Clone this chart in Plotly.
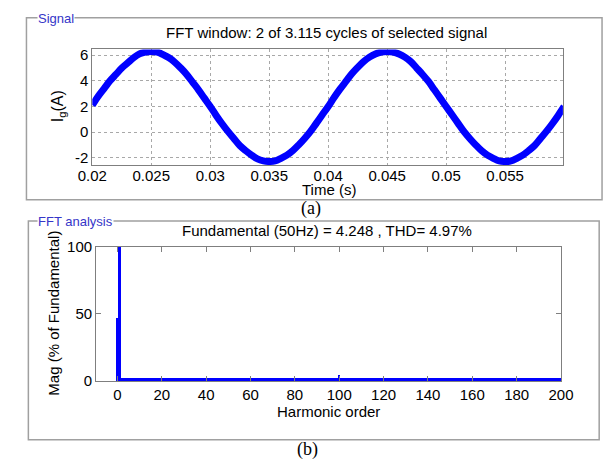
import numpy as np
import plotly.graph_objects as go

# ---------------- data ----------------
t_start = 0.020
t_step = 0.0005
ig_values = [
    2.1, 2.8, 3.4, 4.0, 4.5, 5.0, 5.4, 5.8, 6.1, 6.25, 6.3, 6.25, 6.05, 5.8, 5.45, 5.0, 4.5, 3.9, 3.3, 2.65, 2.0,
    1.3, 0.65, 0.05, -0.5, -1.05, -1.45, -1.8, -2.1, -2.25, -2.3, -2.25, -2.05, -1.8, -1.45, -1.0, -0.5, 0.05, 0.7, 1.35, 2.0,
    2.7, 3.35, 3.95, 4.55, 5.05, 5.5, 5.85, 6.1, 6.25, 6.3, 6.25, 6.1, 5.85, 5.5, 5.0, 4.5, 3.95, 3.3, 2.65, 2.0,
    1.35, 0.7, 0.05, -0.5, -1.0, -1.45, -1.8, -2.05, -2.25, -2.3, -2.25, -2.05, -1.8, -1.45, -1.05, -0.5, 0.05, 0.65, 1.3, 2.0,
]
time_s = [round(t_start + i * t_step, 5) for i in range(len(ig_values))]

time_ticks = [0.02, 0.025, 0.03, 0.035, 0.04, 0.045, 0.05, 0.055]
time_ticklabels = ["0.02", "0.025", "0.03", "0.035", "0.04", "0.045", "0.05", "0.055"]
ig_ticks = [-2, 0, 2, 4, 6]
ig_ticklabels = ["-2", "0", "2", "4", "6"]

harmonic_orders = list(range(0, 201))
floor_mag = 2.2                      # small harmonics, seen as a flat line on the axis
peak_orders = [0, 1, 100]
peak_mags = [47, 100, 4.5]
harmonic_mags = [floor_mag] * len(harmonic_orders)
for o, m in zip(peak_orders, peak_mags):
    harmonic_mags[o] = m

harm_ticks = [0, 20, 40, 60, 80, 100, 120, 140, 160, 180, 200]
mag_ticks = [0, 50, 100]

# ---------------- layout helpers ----------------
W, H = 616, 467
def px(x):
    return x / W
def py(y):
    return 1 - y / H

BLUE = "#0000ff"
FONT = "Liberation Sans, Arial, sans-serif"
AXC = "#7f7f7f"
FS = 15

fig = go.Figure()
fig.add_trace(go.Scatter(x=time_s, y=ig_values, mode="lines",
                         line=dict(color=BLUE, width=7, shape="spline"),
                         xaxis="x", yaxis="y", showlegend=False))
fig.add_trace(go.Bar(x=harmonic_orders, y=harmonic_mags, width=1.25,
                     marker=dict(color=BLUE, line=dict(width=0)),
                     xaxis="x2", yaxis="y2", showlegend=False))

tickfont = dict(family=FONT, size=FS, color="black")

fig.update_layout(
    width=W, height=H, margin=dict(l=0, r=0, t=0, b=0),
    paper_bgcolor="white", plot_bgcolor="white",
    xaxis=dict(domain=[px(81), px(574)], range=[0.02, 0.0599],
               tickvals=time_ticks, ticktext=time_ticklabels, tickfont=tickfont,
               showgrid=True, gridcolor="#a8a8a8", griddash="dot", gridwidth=1,
               showline=True, linecolor=AXC, linewidth=1, mirror=True,
               ticks="", zeroline=False, anchor="y", ticklabelstandoff=-3),
    yaxis=dict(domain=[py(162), py(42)], range=[-2.58, 6.45],
               tickvals=ig_ticks, ticktext=ig_ticklabels, tickfont=tickfont,
               showgrid=True, gridcolor="#a8a8a8", griddash="dot", gridwidth=1,
               showline=True, linecolor=AXC, linewidth=1, mirror=True,
               ticks="", zeroline=False, anchor="x"),
    xaxis2=dict(domain=[px(85), px(572)], range=[-9.6, 200],
                tickvals=harm_ticks, tickfont=tickfont,
                showgrid=False, showline=True, linecolor=AXC, linewidth=1, mirror="ticks",
                ticks="inside", ticklen=5, tickcolor=AXC, zeroline=False, anchor="y2"),
    yaxis2=dict(domain=[py(386), py(247)], range=[0, 100],
                tickvals=mag_ticks, tickfont=tickfont,
                showgrid=False, showline=True, linecolor=AXC, linewidth=1, mirror="ticks",
                ticks="inside", ticklen=5, tickcolor=AXC, zeroline=False, anchor="x2"),
    bargap=0,
)

shapes = [
    dict(type="rect", xref="paper", yref="paper", x0=px(12), x1=px(615), y0=py(198), y1=py(9),
         line=dict(color="#a0a0a0", width=1.5), layer="below"),
    dict(type="rect", xref="paper", yref="paper", x0=px(14), x1=px(612), y0=py(447), y1=py(220),
         line=dict(color="#a0a0a0", width=1.5), layer="below"),
]
fig.update_layout(shapes=shapes)

ann = []
def add(text, x, y, size=FS, color="black", family=FONT, xanchor="center", yanchor="middle", angle=0, bg=None):
    d = dict(text=text, x=px(x), y=py(y), xref="paper", yref="paper", showarrow=False,
             font=dict(family=family, size=size, color=color), xanchor=xanchor, yanchor=yanchor,
             textangle=angle)
    if bg:
        d["bgcolor"] = bg
        d["borderpad"] = 0
    ann.append(d)

add("Signal", 23, 10, size=13, color="#3535c8", xanchor="left", bg="white")
add("FFT analysis", 23, 221, size=13, color="#3535c8", xanchor="left", bg="white")
add("FFT window: 2 of 3.115 cycles of selected signal", 326, 24)
add("I<sub>g</sub>(A)", 45, 101, size=16, angle=-90)
add("Time (s)", 329, 187)
add("(a)", 310, 207, size=18, family="Liberation Serif, Times New Roman, serif")
add("Fundamental (50Hz) = 4.248 , THD= 4.97%", 327, 230)
add("Mag (% of Fundamental)", 40, 316, angle=-90)
add("Harmonic order", 328, 418)
add("(b)", 306, 457, size=18, family="Liberation Serif, Times New Roman, serif")
fig.update_layout(annotations=ann)

fig.write_html("out.html")
